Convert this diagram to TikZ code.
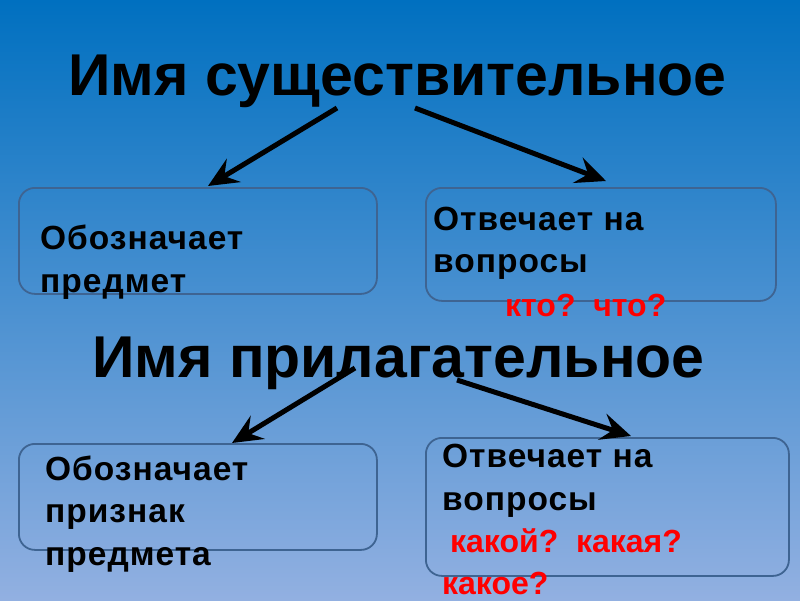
\documentclass[tikz,border=0pt]{standalone}
\usepackage{fontspec}
\setmainfont{Liberation Sans}
\usetikzlibrary{arrows.meta}
\definecolor{bgtop}{RGB}{0,112,192}
\definecolor{bgmid}{RGB}{192,208,238}
\definecolor{bgbot}{RGB}{146,176,225}
\definecolor{boxline}{RGB}{62,100,146}
\definecolor{qred}{RGB}{255,0,0}
\tikzset{
  titletext/.style={anchor=base west, inner sep=0pt, font=\fontsize{59}{59}\selectfont\bfseries},
  bodytext/.style={anchor=base west, inner sep=0pt, font=\fontsize{33.5}{33.5}\selectfont\bfseries\addfontfeature{LetterSpace=3}},
  redtext/.style={anchor=base west, inner sep=0pt, text=qred, font=\fontsize{32}{32}\selectfont\bfseries},
  infobox/.style={draw=boxline, line width=1.8pt, rounded corners=16pt, anchor=north west, inner sep=0pt},
  bigarrow/.style={line width=5pt, -{Stealth[length=30pt, width=27pt, inset=11pt]}}
}
\begin{document}
\begin{tikzpicture}[x=1pt,y=-1pt]
\shade[top color=bgtop, middle color=bgmid, bottom color=bgbot] (0,0) rectangle (800,600);
\useasboundingbox (0,0) rectangle (800,600);

\node[titletext] (t1) at (68,95) {Имя существительное};
\node[titletext] (t2) at (92,377) {Имя прилагательное};

\node[infobox, minimum width=358pt, minimum height=106pt] (b1) at (18,187) {};
\node[infobox, minimum width=350pt, minimum height=113pt] (b2) at (425,187) {};
\node[infobox, minimum width=358pt, minimum height=106pt] (b3) at (18,443) {};
\node[infobox, minimum width=363pt, minimum height=138pt] (b4) at (425,437) {};

\node[bodytext] (b1l1) at (40,249) {Обозначает};
\node[bodytext] (b1l2) at (40,292) {предмет};

\node[bodytext] (b2l1) at (433,230) {Отвечает на};
\node[bodytext] (b2l2) at (433,272) {вопросы};
\node[redtext] (b2l3) at (505,316) {кто?\ \ что?};

\node[bodytext] (b3l1) at (45,480) {Обозначает};
\node[bodytext] (b3l2) at (45,522) {признак};
\node[bodytext] (b3l3) at (45,565) {предмета};

\node[bodytext] (b4l1) at (442,467) {Отвечает на};
\node[bodytext] (b4l2) at (442,510) {вопросы};
\node[redtext] (b4l3) at (450,552) {какой?\ \ какая?};
\node[redtext] (b4l4) at (442,594) {какое?};

\coordinate (a1s) at (337,108);
\coordinate (a1e) at (208,186);
\coordinate (a2s) at (415,108);
\coordinate (a2e) at (606,181);
\coordinate (a3s) at (355,368);
\coordinate (a3e) at (232,443);
\coordinate (a4s) at (457,380);
\coordinate (a4e) at (631,436);

\draw[bigarrow] (a1s) -- (a1e);
\draw[bigarrow] (a2s) -- (a2e);
\draw[bigarrow] (a3s) -- (a3e);
\draw[bigarrow] (a4s) -- (a4e);
\end{tikzpicture}
\end{document}
